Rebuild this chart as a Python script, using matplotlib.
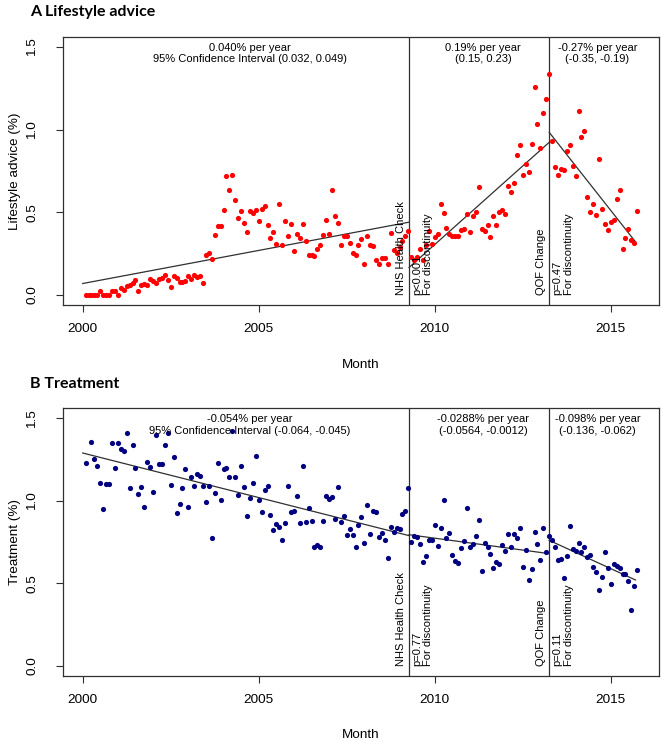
"""
Interrupted time series of monthly lifestyle advice and treatment rates,
with segmented regression fits around the NHS Health Check and QOF change.
"""
import numpy as np
import matplotlib.pyplot as plt

nan = np.nan

# monthly values (%), Jan 2000 - Sep 2015
lifestyle = [
    0.0, 0.0, 0.0, 0.0, 0.0, 0.026, 0.0, 0.0, 0.0, 0.026, 0.026, 0.0,
    0.042, 0.03, 0.058, 0.06, 0.074, 0.09, 0.022, 0.064, 0.07, 0.064, 0.096, 0.086,
    0.074, 0.1, 0.106, 0.124, 0.09, 0.048, 0.118, 0.106, 0.078, 0.082, 0.086, 0.114,
    0.1, 0.12, 0.11, 0.116, 0.076, 0.24, 0.255, 0.22, 0.365, 0.42, 0.42, 0.512,
    0.717, 0.633, 0.725, 0.576, 0.466, 0.508, 0.436, 0.38, 0.508, 0.496, 0.516, 0.448,
    0.522, 0.54, 0.424, 0.345, 0.381, 0.307, 0.548, 0.30, 0.45, 0.355, 0.428, 0.267,
    0.367, 0.347, 0.43, 0.325, 0.241, 0.241, 0.237, 0.281, 0.30, 0.363, 0.454, 0.372,
    0.636, 0.478, 0.436, 0.30, 0.36, 0.355, 0.315, 0.255, 0.243, 0.30, 0.337, 0.19,
    0.357, 0.30, 0.295, 0.21, 0.187, 0.223, 0.225, 0.187, 0.377, 0.27, 0.255, 0.29,
    0.33, 0.36, 0.39, 0.231, 0.21, 0.231, 0.281, 0.21, 0.30, 0.39, 0.31, 0.35,
    0.367, 0.553, 0.498, 0.404, 0.372, 0.36, 0.36, 0.36, 0.396, 0.40, 0.488, 0.381,
    0.476, 0.50, 0.651, 0.40, 0.39, 0.422, 0.35, 0.476, 0.424, 0.502, 0.516, 0.49,
    0.659, 0.625, 0.677, 0.845, 0.91, 0.723, 0.793, 0.745, 0.916, 1.255, 1.034, 0.892,
    1.102, 1.187, 1.335, 0.932, 0.775, 0.727, 0.761, 0.755, 0.872, 0.91, 0.783, 0.721,
    1.114, 0.958, 0.99, 0.592, 0.50, 0.552, 0.482, 0.823, 0.518, 0.428, 0.392, 0.444,
    0.456, 0.582, 0.637, 0.277, 0.348, 0.398, 0.334, 0.313, 0.508,
]
treatment = [
    1.228, nan, 1.356, 1.25, 1.212, 1.107, 0.951, 1.099, 1.103, 1.347, 1.2, 1.351,
    1.311, 1.301, 1.408, 1.075, 1.339, 1.196, 1.04, 1.085, 0.962, 1.234, 1.204, 1.05,
    1.4, 1.222, 1.222, 1.337, 1.412, 1.093, 1.265, 0.923, 0.98, 1.075, 1.19, 0.964,
    1.142, 1.087, 1.162, 1.148, 1.089, 0.994, 1.089, 0.776, 1.044, 1.226, 1.002, 1.194,
    1.198, 1.144, 1.42, 1.142, 1.034, 1.212, 1.083, 0.909, 1.018, 1.109, 1.27, 1.006,
    0.933, 1.063, 1.087, 0.915, 0.822, 0.859, 0.842, 0.762, 0.863, 1.091, 0.93, 0.937,
    1.03, 0.863, 1.212, 0.87, 0.958, 0.875, 0.719, 0.729, 0.717, 0.877, 1.028, 1.012,
    1.02, 0.889, 1.085, 0.87, 0.907, 0.79, 0.826, 0.794, 0.717, 0.855, 0.901, 0.745,
    0.972, 0.798, 0.94, 0.933, 0.778, 0.806, 0.764, 0.655, 0.838, 0.812, 0.832, 0.83,
    0.919, 0.937, 1.075, 0.752, 0.786, 0.778, 0.737, 0.63, 0.667, 0.762, 0.762, 0.85,
    0.727, 0.836, 1.006, 0.772, 0.804, 0.671, 0.636, 0.62, 0.711, 0.754, 0.956, 0.717,
    0.735, 0.784, 0.881, 0.576, 0.741, 0.717, 0.675, 0.592, 0.626, 0.616, 0.733, 0.697,
    0.8, 0.717, 0.796, 0.772, 0.832, 0.598, 0.701, 0.521, 0.586, 0.812, 0.739, 0.642,
    0.834, 0.687, 0.784, 0.762, 0.717, 0.64, 0.646, 0.531, 0.663, 0.846, 0.705, 0.697,
    0.741, 0.689, 0.721, 0.659, 0.673, 0.598, 0.568, 0.457, 0.537, 0.687, 0.59, 0.497,
    0.616, 0.604, 0.592, 0.559, 0.559, 0.511, 0.339, 0.483, 0.580,
]
months = 2000 + (np.arange(len(lifestyle)) + 1) / 12

# segment limits: start, NHS Health Check, QOF change, end
breaks = [2000.0, 2009.27, 2013.25, 2015.7]
event_names = ["NHS Health Check", "QOF Change"]

# segmented fit: level at start of each segment, slope per year
lifestyle_level = [0.07, 0.167, 0.984]
lifestyle_slope = [0.040, 0.19, -0.27]
treatment_level = [1.289, 0.794, 0.76]
treatment_slope = [-0.054, -0.0288, -0.098]

label_x = [2004.75, 2011.38, 2014.62]
lifestyle_labels = [
    "0.040% per year\n95% Confidence Interval (0.032, 0.049)",
    "0.19% per year\n(0.15, 0.23)",
    "-0.27% per year\n(-0.35, -0.19)",
]
treatment_labels = [
    "-0.054% per year\n95% Confidence Interval (-0.064, -0.045)",
    "-0.0288% per year\n(-0.0564, -0.0012)",
    "-0.098% per year\n(-0.136, -0.062)",
]
lifestyle_p = ["p<0.001", "p=0.47"]
treatment_p = ["p=0.77", "p=0.11"]

plt.rcParams['font.family'] = ['Liberation Sans', 'DejaVu Sans']
LINE = '#303030'

fig = plt.figure(figsize=(6.61, 7.40), dpi=100)


def panel(ax, values, color, levels, slopes, labels, pvals, ylabel):
    ax.scatter(months, values, s=14, color=color, linewidths=0, zorder=3)

    for i in range(3):
        x0, x1 = breaks[i], breaks[i + 1]
        ax.plot([x0, x1], [levels[i], levels[i] + slopes[i] * (x1 - x0)],
                color=LINE, lw=0.9, zorder=2)
        ax.text(label_x[i], 1.458, labels[i], ha='center', va='center',
                fontsize=8, linespacing=1.15)

    for i in range(2):
        xb = breaks[i + 1]
        ax.axvline(xb, color=LINE, lw=0.9, zorder=1)
        ax.annotate(event_names[i], xy=(xb, 0), xytext=(-2, 0),
                    textcoords='offset points', rotation=90,
                    rotation_mode='anchor', ha='left', va='bottom', fontsize=8)
        ax.annotate(pvals[i] + "\nFor discontinuity", xy=(xb, 0), xytext=(2, 0),
                    textcoords='offset points', rotation=90,
                    rotation_mode='anchor', ha='left', va='top', fontsize=8,
                    linespacing=1.2)

    ax.set_xlim(1999.45, 2016.37)
    ax.set_ylim(-0.06, 1.56)
    ax.set_xticks([2000, 2005, 2010, 2015])
    ax.set_yticks([0, 0.5, 1.0, 1.5])
    ax.set_yticklabels(["0.0", "0.5", "1.0", "1.5"], rotation=90, va='center')
    ax.tick_params(axis='x', length=5, width=0.8, pad=8, labelsize=9.7, color=LINE)
    ax.tick_params(axis='y', length=5, width=0.8, pad=13, labelsize=9.7, color=LINE)
    for sp in ax.spines.values():
        sp.set_color(LINE)
        sp.set_linewidth(0.9)
    ax.set_xlabel("Month", fontsize=9.7, labelpad=17)
    ax.set_ylabel(ylabel, fontsize=9.7, labelpad=4)


# =============================
# ===== A Lifestyle advice =====
# =============================
ax_a = fig.add_axes([0.0958, 0.5878, 0.9012, 0.3622])
panel(ax_a, lifestyle, '#FF0000', lifestyle_level, lifestyle_slope,
      lifestyle_labels, lifestyle_p, "Lifestyle advice (%)")

# =========================
# ===== B Treatment =====
# =========================
ax_b = fig.add_axes([0.0958, 0.0869, 0.9012, 0.3614])
panel(ax_b, treatment, '#000080', treatment_level, treatment_slope,
      treatment_labels, treatment_p, "Treatment (%)")

fig.text(30 / 661, 1 - 12 / 740, "A Lifestyle advice", fontsize=11.5,
         fontweight='bold', family=['Lato', 'DejaVu Sans'], va='center')
fig.text(30 / 661, 1 - 384 / 740, "B Treatment", fontsize=11.5,
         fontweight='bold', family=['Lato', 'DejaVu Sans'], va='center')

plt.savefig("out.png", dpi=100)
plt.close()
